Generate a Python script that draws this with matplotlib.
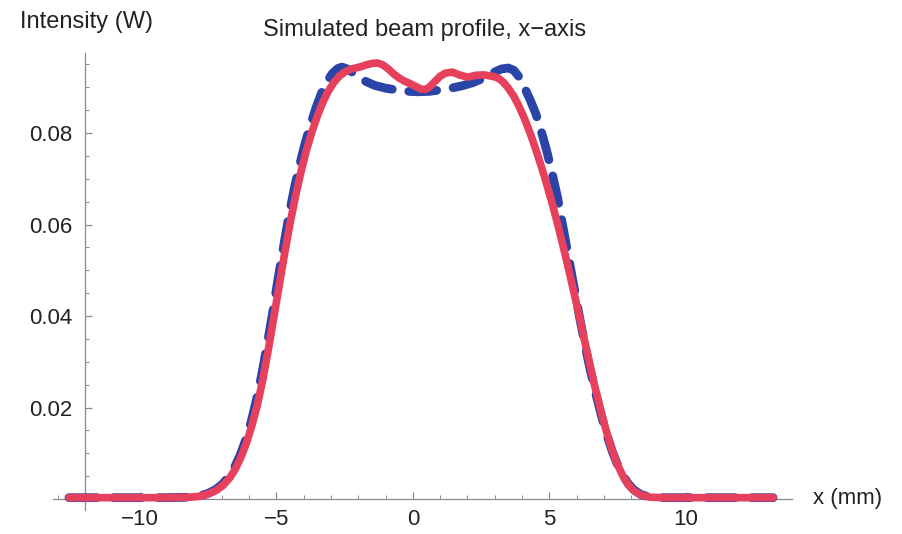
import matplotlib
matplotlib.use("Agg")
import matplotlib.pyplot as plt
from matplotlib.ticker import MultipleLocator

plt.rcParams['font.family'] = ['Liberation Sans', 'DejaVu Sans']

# measured profile (red, solid)
x_meas = [-12.6, -11.0, -10.0, -9.0, -8.2, -7.8, -7.5, -7.2, -6.95, -6.7, -6.5, -6.3,
          -6.1, -5.9, -5.7, -5.5, -5.3, -5.1, -4.9, -4.7, -4.5, -4.3, -4.1, -3.9,
          -3.7, -3.5, -3.3, -3.1, -2.9, -2.7, -2.5, -2.3, -2.1, -1.9, -1.7, -1.5,
          -1.3, -1.1, -0.9, -0.7, -0.5, -0.3, -0.1, 0.1, 0.3, 0.45, 0.6, 0.8,
          1.0, 1.2, 1.45, 1.7, 2.0, 2.3, 2.6, 2.9, 3.1, 3.3, 3.5, 3.7,
          3.9, 4.1, 4.3, 4.5, 4.7, 4.9, 5.1, 5.3, 5.5, 5.7, 5.9, 6.1,
          6.3, 6.5, 6.7, 6.9, 7.1, 7.3, 7.5, 7.7, 7.9, 8.1, 8.35, 8.7,
          9.2, 10.0, 11.0, 12.0, 13.2]
y_meas = [0.0003, 0.0003, 0.0003, 0.0003, 0.0004, 0.0006, 0.0011, 0.0019, 0.0030, 0.0047, 0.0066, 0.0091,
          0.0122, 0.0160, 0.0205, 0.0260, 0.0325, 0.0395, 0.0466, 0.0536, 0.0602, 0.0662, 0.0715, 0.0762,
          0.0802, 0.0837, 0.0867, 0.0891, 0.0910, 0.0924, 0.0933, 0.0939, 0.0942, 0.0945, 0.0949, 0.0952,
          0.0953, 0.0949, 0.0940, 0.0929, 0.0920, 0.0913, 0.0908, 0.0902, 0.0896, 0.0895, 0.0900, 0.0912,
          0.0924, 0.0931, 0.0933, 0.0927, 0.0922, 0.0926, 0.0927, 0.0924, 0.0921, 0.0912, 0.0898, 0.0880,
          0.0857, 0.0830, 0.0799, 0.0765, 0.0728, 0.0689, 0.0647, 0.0602, 0.0554, 0.0504, 0.0452, 0.0399,
          0.0344, 0.0290, 0.0238, 0.0190, 0.0146, 0.0107, 0.0075, 0.0050, 0.0031, 0.0018, 0.0009, 0.0004,
          0.0003, 0.0003, 0.0003, 0.0003, 0.0003]

# simulated profile (blue, dashed)
x_sim = [-12.6, -11.0, -10.0, -9.0, -8.2, -7.85, -7.52, -7.22, -6.97, -6.72, -6.52, -6.32,
         -6.12, -5.92, -5.73, -5.53, -5.33, -5.13, -4.94, -4.74, -4.55, -4.35, -4.15, -3.95,
         -3.75, -3.55, -3.35, -3.15, -2.95, -2.75, -2.6, -2.4, -2.2, -2.0, -1.7, -1.4,
         -1.0, -0.6, -0.2, 0.2, 0.6, 1.0, 1.4, 1.8, 2.2, 2.6, 2.95, 3.25,
         3.5, 3.7, 3.9, 4.1, 4.3, 4.5, 4.7, 4.9, 5.1, 5.3, 5.5, 5.7,
         5.9, 6.1, 6.3, 6.5, 6.7, 6.9, 7.1, 7.3, 7.5, 7.7, 7.9, 8.1,
         8.35, 8.7, 9.2, 10.0, 11.0, 12.0, 13.2]
y_sim = [0.0003, 0.0003, 0.0003, 0.0003, 0.0004, 0.0006, 0.0012, 0.0021, 0.0033, 0.0051, 0.0071, 0.0097,
         0.0130, 0.0170, 0.0217, 0.0274, 0.0340, 0.0410, 0.0481, 0.0551, 0.0617, 0.0677, 0.0730, 0.0777,
         0.0818, 0.0855, 0.0887, 0.0912, 0.0930, 0.0941, 0.0944, 0.0940, 0.0932, 0.0922, 0.0912, 0.0904,
         0.0898, 0.0894, 0.0891, 0.0890, 0.0891, 0.0894, 0.0898, 0.0903, 0.0910, 0.0920, 0.0932, 0.0940,
         0.0942, 0.0937, 0.0922, 0.0898, 0.0872, 0.0843, 0.0805, 0.0762, 0.0713, 0.0660, 0.0595, 0.0530,
         0.0465, 0.0400, 0.0338, 0.0282, 0.0231, 0.0184, 0.0142, 0.0105, 0.0075, 0.0051, 0.0033, 0.0020,
         0.0010, 0.0004, 0.0003, 0.0003, 0.0003, 0.0003, 0.0003]

x_ticks = [-10, -5, 0, 5, 10]
y_ticks = [0.02, 0.04, 0.06, 0.08]

fig = plt.figure(figsize=(9.02, 5.34), dpi=100)
ax = fig.add_axes([0.0583, 0.0449, 0.820, 0.856])

ax.plot(x_sim, y_sim, color='#2b44a8', lw=6.3, dashes=(3.2, 1.9),
        dash_capstyle='round', solid_capstyle='round', dash_joinstyle='round',
        clip_on=False, zorder=3)
ax.plot(x_meas, y_meas, color='#e6405c', lw=5.5, solid_capstyle='round',
        solid_joinstyle='round', clip_on=False, zorder=4)

ax.set_xlim(-13.2, 13.9)
ax.set_ylim(-0.0024, 0.0975)

for s in ['top', 'right']:
    ax.spines[s].set_visible(False)
ax.spines['left'].set_position(('data', -12))
ax.spines['bottom'].set_position(('data', 0))
for s in ['left', 'bottom']:
    ax.spines[s].set_color('#8a8a8a')
    ax.spines[s].set_linewidth(0.9)

ax.set_xticks(x_ticks)
ax.set_yticks(y_ticks)
ax.set_yticklabels([f"{v:.2f}" for v in y_ticks])
ax.xaxis.set_minor_locator(MultipleLocator(1))
ax.yaxis.set_minor_locator(MultipleLocator(0.005))
ax.tick_params(which='both', direction='in', color='#8a8a8a', labelsize=16, labelcolor='#222222')
ax.tick_params(which='major', length=5, width=0.9)
ax.tick_params(which='minor', length=3, width=0.7)
ax.tick_params(axis='x', pad=7)
ax.tick_params(axis='y', pad=9)

fig.text(0.022, 0.959, "Intensity (W)", fontsize=17, color='#222222', va='center', ha='left')
fig.text(0.471, 0.943, "Simulated beam profile, x\u2212axis", fontsize=17, color='#222222',
         va='center', ha='center')
fig.text(0.901, 0.066, "x (mm)", fontsize=16, color='#222222', va='center', ha='left')

fig.savefig("out.png", dpi=100)
